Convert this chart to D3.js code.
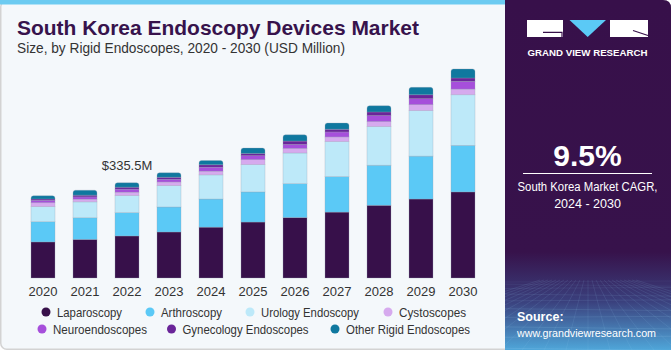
<!DOCTYPE html>
<html>
<head>
<meta charset="utf-8">
<script src="https://cdn.jsdelivr.net/npm/d3@7"></script>
<style>
  body { margin: 0; background: #fff; }
  svg { display: block; font-family: "Liberation Sans", Arial, sans-serif; }
</style>
</head>
<body>
<div id="chart"></div>
<script>
// data (USD Million)
const years = ["2020","2021","2022","2023","2024","2025","2026","2027","2028","2029","2030"];
const laparoscopy = [127, 136, 148, 162, 179, 197, 213, 232, 256, 278, 303];
const arthroscopy = [71, 76, 82, 88, 99, 106, 119, 125, 141, 151, 164];
const urology     = [53, 56, 60, 75, 85, 96, 108, 123, 136, 160, 178];
const cystoscopes = [14, 9.5, 12, 13, 13, 17.5, 16, 16.5, 17.5, 21, 20];
const neuro       = [8.5, 8, 10.6, 9.5, 14, 14, 14, 17.5, 21, 21, 27];
const gynecology  = [4.6, 6, 7, 7, 8.5, 8, 12, 9.5, 13, 14, 12];
const otherRigid  = [11.6, 17.5, 15.9, 16, 15, 19, 22, 22, 22, 26, 32];

const seriesNames = ["Laparoscopy","Arthroscopy","Urology Endoscopy","Cystoscopes",
  "Neuroendoscopes","Gynecology Endoscopes","Other Rigid Endoscopes"];
const seriesValues = [laparoscopy, arthroscopy, urology, cystoscopes, neuro, gynecology, otherRigid];
const colors = ["#37104a","#5bc9f6","#bde9f9","#d6aaee","#a64fdb","#6a2599","#0f789f"];
const labelYear = "2022", labelText = "$335.5M";

const W = 671, H = 350;
const svg = d3.select("#chart").append("svg").attr("width", W).attr("height", H);

// card background
svg.append("rect").attr("x",0.75).attr("y",0.75).attr("width",W-1.5).attr("height",H-1.5)
  .attr("rx",6).attr("fill","#f4f8fb").attr("stroke","#d3d3d3").attr("stroke-width",1.5);
svg.append("rect").attr("x",0).attr("y",0).attr("width",506).attr("height",4.5).attr("fill","#6ccbf1");

// title
svg.append("text").attr("x",17).attr("y",35).attr("textLength",402).attr("lengthAdjust","spacingAndGlyphs")
  .style("font-size","21px").style("font-weight","bold").attr("fill","#37134c")
  .text("South Korea Endoscopy Devices Market");
svg.append("text").attr("x",17).attr("y",53).attr("textLength",328).attr("lengthAdjust","spacingAndGlyphs")
  .style("font-size","14px").attr("fill","#333")
  .text("Size, by Rigid Endoscopes, 2020 - 2030 (USD Million)");

// stack
const table = years.map((yr, i) => {
  const row = { year: yr };
  seriesNames.forEach((s, k) => row[s] = seriesValues[k][i]);
  return row;
});
const stacked = d3.stack().keys(seriesNames)(table);

const x = d3.scaleBand().domain(years).range([22, 484]).paddingInner(0.4286).paddingOuter(0.2143);
const y = d3.scaleLinear().domain([0, 800]).range([278, 278 - 800 * 0.2841]);
const color = d3.scaleOrdinal().domain(seriesNames).range(colors);

const g = svg.append("g");
stacked.forEach((layer, li) => {
  const isTop = li === stacked.length - 1;
  layer.forEach(d => {
    const x0 = x(d.data.year), w = x.bandwidth();
    const yTop = y(d[1]), yBot = y(d[0]);
    if (isTop) {
      const r = 2.5;
      g.append("path")
        .attr("d", `M${x0},${yBot}V${yTop + r}Q${x0},${yTop} ${x0 + r},${yTop}H${x0 + w - r}Q${x0 + w},${yTop} ${x0 + w},${yTop + r}V${yBot}Z`)
        .attr("fill", color(layer.key))
        .attr("stroke", "#9aa3b5").attr("stroke-opacity", 0.5).attr("stroke-width", 0.6);
    } else {
      g.append("rect").attr("x", x0).attr("y", yTop).attr("width", w).attr("height", yBot - yTop)
        .attr("fill", color(layer.key))
        .attr("stroke", "#9aa3b5").attr("stroke-opacity", 0.5).attr("stroke-width", 0.6);
    }
  });
});

// x axis labels
const xAxis = svg.append("g").attr("transform", "translate(0,278)")
  .call(d3.axisBottom(x).tickSize(0).tickPadding(9));
xAxis.select(".domain").remove();
xAxis.selectAll("text").style("font-size","13px").attr("fill","#333").style("font-family","Liberation Sans, Arial, sans-serif");

// value label
const total2022 = d3.sum(seriesValues, s => s[years.indexOf(labelYear)]);
svg.append("text").attr("x", x(labelYear) + x.bandwidth() / 2).attr("y", y(total2022) - 13)
  .attr("text-anchor","middle").style("font-size","13px").attr("fill","#333").text(labelText);

// legend
const legendPos = [
  [46, 312], [150, 312], [250, 312], [388, 312],
  [42, 329], [171.5, 329], [335, 329]
];
const legendWidths = [65, 61, 98, 67, 94, 126, 124];
seriesNames.forEach((s, i) => {
  const [cx, cy] = legendPos[i];
  svg.append("circle").attr("cx", cx).attr("cy", cy).attr("r", 4.5).attr("fill", colors[i]);
  svg.append("text").attr("x", cx + 11).attr("y", cy + 4.5)
    .attr("textLength", legendWidths[i]).attr("lengthAdjust", "spacingAndGlyphs")
    .style("font-size","13px").attr("fill","#333").text(s);
});

// right panel
const defs = svg.append("defs");
const grad = defs.append("linearGradient").attr("id","pg").attr("x1",0).attr("y1",0).attr("x2",0).attr("y2",1);
grad.append("stop").attr("offset","0").attr("stop-color","#37104a");
grad.append("stop").attr("offset","0.72").attr("stop-color","#37124b");
grad.append("stop").attr("offset","0.86").attr("stop-color","#3a3f7c");
grad.append("stop").attr("offset","1").attr("stop-color","#4fa6d9");
defs.append("clipPath").attr("id","pc").append("path")
  .attr("d", `M505,0H663Q671,0 671,8V350H505Z`);

const panel = svg.append("g").attr("clip-path","url(#pc)");
panel.append("rect").attr("x",505).attr("y",0).attr("width",166).attr("height",350).attr("fill","url(#pg)");

// mesh in the lower part
const mesh = panel.append("g").attr("stroke","#9fd3f2").attr("stroke-width",0.5).attr("fill","none");
d3.range(0, 12).forEach(i => {
  const yy = 282 + Math.pow(i, 1.55) * 2.2;
  mesh.append("line").attr("x1",505).attr("x2",671).attr("y1",yy).attr("y2",yy + (i % 2 ? 2 : -1))
    .attr("stroke-opacity", 0.12 + i * 0.025);
});
d3.range(-12, 13).forEach(i => {
  mesh.append("line").attr("x1", 588 + i * 4).attr("y1", 280).attr("x2", 588 + i * 22).attr("y2", 350)
    .attr("stroke-opacity", 0.22);
});

// logo
const logo = svg.append("g");
logo.append("rect").attr("x",527).attr("y",20).attr("width",36).attr("height",17).attr("fill","#fff");
logo.append("path").attr("d","M543,32.3H562V37").attr("stroke","#37104a").attr("stroke-width",1.2).attr("fill","none");
logo.append("path").attr("d","M569.5,20H606L587.7,37Z").attr("fill","#5bc9f6");
logo.append("rect").attr("x",610).attr("y",20).attr("width",38).attr("height",17).attr("fill","#fff");
logo.append("path").attr("d","M633,30.5L648,35.5").attr("stroke","#37104a").attr("stroke-width",1.2);
logo.append("text").attr("x",587.5).attr("y",56).attr("text-anchor","middle")
  .attr("textLength",120).attr("lengthAdjust","spacingAndGlyphs")
  .style("font-size","9.5px").style("font-weight","bold").attr("fill","#fff").text("GRAND VIEW RESEARCH");

// CAGR
svg.append("text").attr("x",587.5).attr("y",165.5).attr("text-anchor","middle")
  .style("font-size","30px").style("font-weight","bold").attr("fill","#fff").text("9.5%");
svg.append("line").attr("x1",523).attr("x2",652).attr("y1",173.5).attr("y2",173.5)
  .attr("stroke","#fff").attr("stroke-width",1);
svg.append("text").attr("x",587.5).attr("y",191).attr("text-anchor","middle")
  .attr("textLength",140).attr("lengthAdjust","spacingAndGlyphs")
  .style("font-size","12px").attr("fill","#fff").text("South Korea Market CAGR,");
svg.append("text").attr("x",587.5).attr("y",208).attr("text-anchor","middle")
  .style("font-size","12.5px").attr("fill","#fff").text("2024 - 2030");

svg.append("text").attr("x",517).attr("y",321).style("font-size","12.5px").style("font-weight","bold")
  .attr("fill","#fff").text("Source:");
svg.append("text").attr("x",517).attr("y",337).attr("textLength",139).attr("lengthAdjust","spacingAndGlyphs")
  .style("font-size","11px").attr("fill","#fff").text("www.grandviewresearch.com");
</script>
</body>
</html>
